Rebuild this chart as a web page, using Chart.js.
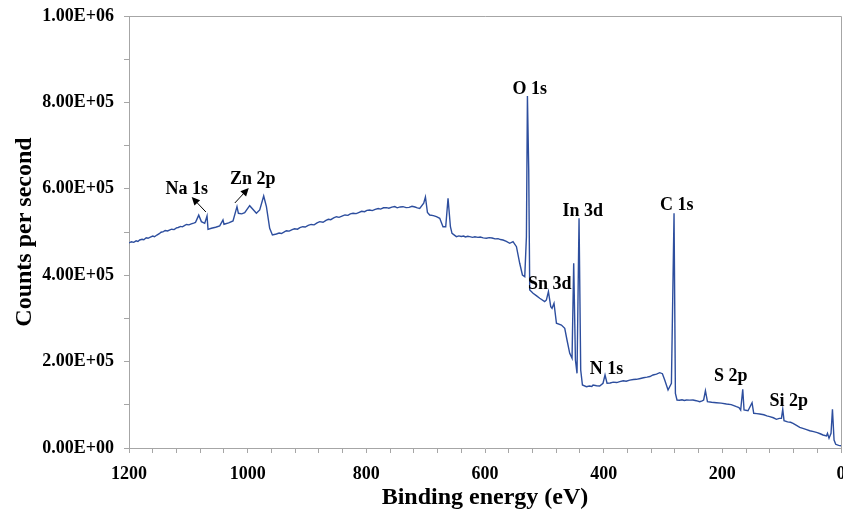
<!DOCTYPE html>
<html>
<head>
<meta charset="utf-8">
<script src="https://cdn.jsdelivr.net/npm/chart.js@4.4.1/dist/chart.umd.min.js"></script>
<style>
  html, body { margin: 0; padding: 0; background: #fff; }
</style>
</head>
<body>
<canvas id="xps" width="843" height="514"></canvas>
<script>
// XPS survey spectrum

const bindingEnergy = [
  1200, 1196, 1192, 1188, 1185, 1182, 1178, 1175, 1171, 1168, 1164, 1160, 1157, 1153, 1149, 1146,
  1142, 1139, 1135, 1131, 1128, 1124, 1120, 1117, 1113, 1110, 1106, 1103, 1099, 1095, 1091, 1088,
  1086, 1082.5, 1078, 1072.4, 1068.5, 1066.8, 1061.1, 1054, 1047.1, 1041.6, 1039.9,
  1032, 1024.7, 1018, 1015.6, 1010, 1005, 996.6, 985.3, 979.7, 973, 968.4, 962.9, 958.3,
  951.6, 947, 943, 939, 934.7, 930, 925, 921, 916, 912, 907.2, 903, 898, 893, 888, 883, 878.6,
  873, 868, 864, 860, 855, 850.4, 846, 840, 836, 831, 827, 822.4, 817, 812, 808, 803, 799, 794.3,
  790, 785, 780, 776, 771, 766.2, 762, 757, 752, 748, 743, 738.2, 733, 728, 723, 718, 714, 710,
  703.3, 700.4, 697, 693.2, 687, 681.9, 676.3, 670.8, 666.2, 662.3, 658.3, 655.6,
  648.2, 644, 640, 636, 633, 629, 625.8, 621, 617, 612, 608, 603, 597.6, 593, 588, 583, 578, 574, 569.6,
  564, 558.3, 552.8, 547, 541.5, 536.9, 533, 530.2, 528.5, 526.3, 524.6, 519, 513, 507.8, 499.4, 496.5,
  493.1, 489.2, 487, 483.7, 479.6, 471.2, 465.6, 461.8, 457.2, 453.3, 450.5, 447.6, 444.9, 441.5,
  438.7, 435.8, 429.1, 424, 420, 417.9, 412, 406.7, 401.1, 397.7, 394.3, 389, 384, 378, 372.9, 367,
  362, 356, 350, 344.8, 338, 333, 327, 322, 316.8, 311, 305.5, 301, 297.1, 291.5, 285.8, 281.4, 279.1,
  276.4, 272, 268, 264, 260.5, 255, 249.4, 244, 238.1, 234, 231.5, 228.5, 225.1, 218, 210, 202,
  193.1, 185, 176.2, 172, 169.1, 165.6, 163.4, 156.7, 149.9, 147.1, 142, 137, 130, 125, 120.1, 114,
  108.8, 104, 100.4, 98.2, 96, 90, 85, 80.8, 75, 69.5, 63, 58, 52.7, 46, 40, 35, 30.3, 24.5, 22.8,
  20.2, 16.8, 14.4, 11.7, 8.9, 4, 0
];

const countsPerSecond = [
  474600, 477500, 476000, 479500, 478000, 481500, 483000, 482000, 486500, 485500, 488000, 490500, 489000, 493000, 496000, 499500,
  501000, 503500, 502500, 505000, 506500, 505500, 509500, 510500, 513000, 512000, 515500, 517500, 516500, 519000, 520500, 522000,
  528000, 539000, 524000, 520000, 537000, 506000, 508600, 511000, 514000, 527800, 517900,
  521000, 525500, 558600, 543300, 542000, 544700, 560900, 543300, 551000, 583400, 558600, 508600, 493000,
  495400, 497500, 496500, 499500, 503000, 502000, 505500, 507500, 506500, 510000, 512300, 511500, 515500, 517500, 516500, 521000, 523900,
  522500, 527000, 529500, 528500, 532500, 535400, 534000, 537500, 539500, 538500, 542000, 543300, 542500, 545500, 548000, 547000, 550000, 551000,
  549500, 552500, 554500, 553000, 556000, 556300, 555000, 557500, 559000, 556000, 558000, 558600, 556500, 557000, 559500, 557800, 556000, 554400,
  566500, 581000, 545200, 539400, 538000, 535400, 531800, 512300, 512300, 578000, 512300, 497000,
  489200, 491000, 489500, 490500, 488500, 490000, 489200, 487500, 488800, 487500, 488500, 486500, 485500, 487000, 486000, 484000, 484500, 482500, 481500,
  478500, 473900, 477600, 466000, 427600, 400500, 396600, 489200, 814900, 643600, 365800, 358100, 352000, 346600, 338700, 342600,
  361800, 327100, 323400, 335000, 288700, 284700, 277100, 250000, 219200, 207700, 427600, 203700, 172900, 531800,
  180600, 145800, 141900, 143500, 142500, 145800, 144000, 143500, 149800, 169000, 149800, 150500, 152500, 151500, 153500, 155500,
  154500, 157000, 158500, 159000, 161000, 162500, 164000, 165500, 169000, 171000, 174300, 172000, 157400, 134300, 149800, 543300, 126600,
  111100, 110500, 111500, 110000, 111100, 110800, 111100, 109500, 107200, 109000, 111100, 132600, 107200, 106000, 104900, 104000,
  101900, 100500, 95600, 93500, 88000, 135900, 88000, 86300, 104900, 80300, 79500, 78700, 77000, 74500, 72500, 70000,
  66400, 68500, 68800, 89600, 63200, 60500, 59500, 57200, 52500, 47900, 45000, 42500, 40000, 38000, 35500, 33000, 30100, 27800, 34000,
  22500, 34000, 89600, 18500, 8600, 6000, 5300
];

// labelled tick values
const xLabelValues = [1200, 1000, 800, 600, 400, 200, 0];
const yLabelValues = [0, 200000, 400000, 600000, 800000, 1000000];

// peak names and where their text sits (eV, counts)
const peakNames  = ['Na 1s', 'Zn 2p', 'O 1s', 'Sn 3d', 'In 3d', 'N 1s', 'C 1s', 'S 2p', 'Si 2p'];
const peakEnergy = [1102.7, 991.5, 524.6, 491, 435.1, 395.2, 276.9, 185.8, 88.1];
const peakCounts = [599600, 622700, 831000, 379700, 548700, 182900, 562500, 166700, 108800];

// arrows for the two crowded labels: [eV from, counts from, eV tip, counts tip]
const arrows = [
  [1070.4, 546300, 1094.3, 581000],
  [1021.6, 567200, 998.2, 601900]
];

const axisGray = '#a6a6a6';
const serif = "'Liberation Serif', 'Times New Roman', serif";

function sciLabel(v) {
  const parts = v.toExponential(2).split('e');
  const exp = parseInt(parts[1], 10);
  const sign = exp < 0 ? '-' : '+';
  return parts[0] + 'E' + sign + String(Math.abs(exp)).padStart(2, '0');
}

const annotations = {
  id: 'annotations',
  afterDraw(chart) {
    const { ctx, chartArea, scales } = chart;
    const x = scales.x, y = scales.y;

    // top and right frame lines
    ctx.save();
    ctx.strokeStyle = axisGray;
    ctx.lineWidth = 1;
    ctx.beginPath();
    ctx.moveTo(chartArea.left, chartArea.top + 0.5);
    ctx.lineTo(chartArea.right + 0.5, chartArea.top + 0.5);
    ctx.lineTo(chartArea.right + 0.5, chartArea.bottom);
    ctx.stroke();

    // peak labels
    ctx.fillStyle = '#000';
    ctx.font = 'bold 18px ' + serif;
    ctx.textAlign = 'center';
    ctx.textBaseline = 'middle';
    peakNames.forEach((name, i) => {
      ctx.fillText(name, x.getPixelForValue(peakEnergy[i]), y.getPixelForValue(peakCounts[i]));
    });

    // arrows
    ctx.strokeStyle = '#000';
    ctx.lineWidth = 1;
    arrows.forEach(a => {
      const x0 = x.getPixelForValue(a[0]), y0 = y.getPixelForValue(a[1]);
      const x1 = x.getPixelForValue(a[2]), y1 = y.getPixelForValue(a[3]);
      const ang = Math.atan2(y1 - y0, x1 - x0);
      const head = 9;
      ctx.beginPath();
      ctx.moveTo(x0, y0);
      ctx.lineTo(x1 - Math.cos(ang) * head * 0.8, y1 - Math.sin(ang) * head * 0.8);
      ctx.stroke();
      ctx.beginPath();
      ctx.moveTo(x1, y1);
      ctx.lineTo(x1 - head * Math.cos(ang - 0.45), y1 - head * Math.sin(ang - 0.45));
      ctx.lineTo(x1 - head * Math.cos(ang + 0.45), y1 - head * Math.sin(ang + 0.45));
      ctx.closePath();
      ctx.fill();
    });
    ctx.restore();
  }
};

new Chart(document.getElementById('xps'), {
  type: 'line',
  data: {
    datasets: [{
      data: bindingEnergy.map((e, i) => ({ x: e, y: countsPerSecond[i] })),
      borderColor: '#2d4e9e',
      borderWidth: 1.4,
      pointRadius: 0,
      tension: 0,
      fill: false
    }]
  },
  options: {
    responsive: false,
    animation: false,
    devicePixelRatio: 1,
    layout: { padding: { left: 0, right: 2, top: 16, bottom: 0 } },
    plugins: {
      legend: { display: false },
      tooltip: { enabled: false }
    },
    scales: {
      x: {
        type: 'linear',
        reverse: true,
        min: 0,
        max: 1200,
        grid: { drawOnChartArea: false, color: axisGray, tickLength: 5 },
        border: { color: axisGray },
        ticks: {
          stepSize: 40,
          autoSkip: false,
          maxRotation: 0,
          padding: 11,
          color: '#000',
          font: { family: serif, size: 18, weight: 'bold' },
          callback: v => xLabelValues.includes(v) ? String(v) : ''
        },
        title: {
          display: true,
          text: 'Binding energy (eV)',
          color: '#000',
          font: { family: serif, size: 24, weight: 'bold' },
          padding: { top: 0, bottom: 2 }
        },
        afterFit: s => { s.height = 66; s.paddingLeft = 0; s.paddingRight = 0; }
      },
      y: {
        min: 0,
        max: 1000000,
        grid: { drawOnChartArea: false, color: axisGray, tickLength: 5 },
        border: { color: axisGray },
        ticks: {
          stepSize: 100000,
          autoSkip: false,
          padding: 10,
          color: '#000',
          font: { family: serif, size: 18, weight: 'bold' },
          callback: v => yLabelValues.includes(v) ? sciLabel(v) : ''
        },
        title: {
          display: true,
          text: 'Counts per second',
          color: '#000',
          font: { family: serif, size: 24, weight: 'bold' },
          padding: { top: 10, bottom: 0 }
        },
        afterFit: s => { s.width = 129; s.paddingTop = 0; s.paddingBottom = 0; }
      }
    }
  },
  plugins: [annotations]
});
</script>
</body>
</html>
